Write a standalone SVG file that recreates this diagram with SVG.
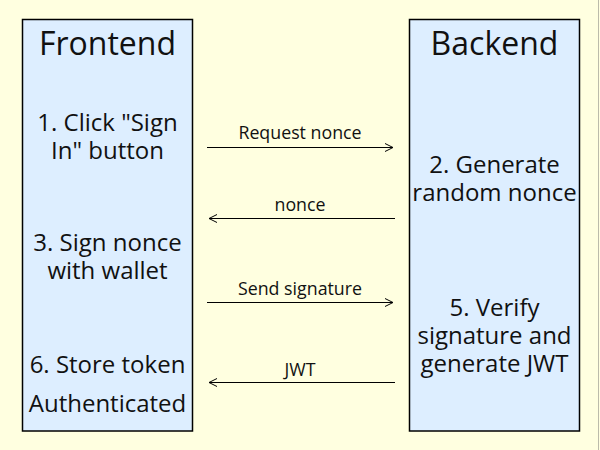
<svg xmlns="http://www.w3.org/2000/svg" width="600" height="450" viewBox="0 0 600 450">
<style>
.box{fill:#ddeeff;stroke:#000;stroke-width:1.5}
.t{font-family:"Open Sans","DejaVu Sans",sans-serif;fill:#111;text-anchor:middle}
.title{font-size:32px}
.lbl{font-size:24px}
.msg{font-size:17.8px}
.ln{stroke:#000;stroke-width:1;fill:none}
</style>
<defs>
<marker id="ah" viewBox="0 0 10 10" refX="9" refY="5" markerWidth="10" markerHeight="10" markerUnits="userSpaceOnUse" orient="auto">
<path d="M1,1 L9,5 L1,9" fill="none" stroke="#000" stroke-width="1"/>
</marker>
</defs>
<rect width="600" height="450" fill="#ffffe0"/>
<line x1="598.5" y1="0" x2="598.5" y2="450" stroke="#bbbbaa" stroke-width="1"/>
<g id="frontend">
<rect class="box" x="22.5" y="19.5" width="170" height="411.5"/>
<text class="t title" x="107.5" y="55">Frontend</text>
<text class="t lbl" x="107.5" y="131">1. Click "Sign</text>
<text class="t lbl" x="107.5" y="159">In" button</text>
<text class="t lbl" x="107.5" y="251">3. Sign nonce</text>
<text class="t lbl" x="107.5" y="279">with wallet</text>
<text class="t lbl" x="107.5" y="373">6. Store token</text>
<text class="t lbl" x="107.5" y="412">Authenticated</text>
</g>
<g id="backend">
<rect class="box" x="409.5" y="19.5" width="170" height="411.5"/>
<text class="t title" x="494.5" y="55">Backend</text>
<text class="t lbl" x="494.5" y="173">2. Generate</text>
<text class="t lbl" x="494.5" y="201">random nonce</text>
<text class="t lbl" x="494.5" y="316">5. Verify</text>
<text class="t lbl" x="494.5" y="344">signature and</text>
<text class="t lbl" x="494.5" y="372">generate JWT</text>
</g>
<g id="connectors">
<line class="ln" x1="207" y1="147.5" x2="393" y2="147.5" marker-end="url(#ah)"/>
<text class="t msg" x="300" y="139">Request nonce</text>
<line class="ln" x1="395" y1="218.5" x2="209" y2="218.5" marker-end="url(#ah)"/>
<text class="t msg" x="300" y="211">nonce</text>
<line class="ln" x1="207" y1="302.5" x2="393" y2="302.5" marker-end="url(#ah)"/>
<text class="t msg" x="300" y="295">Send signature</text>
<line class="ln" x1="395" y1="382.5" x2="209" y2="382.5" marker-end="url(#ah)"/>
<text class="t msg" x="300" y="376">JWT</text>
</g>
</svg>
